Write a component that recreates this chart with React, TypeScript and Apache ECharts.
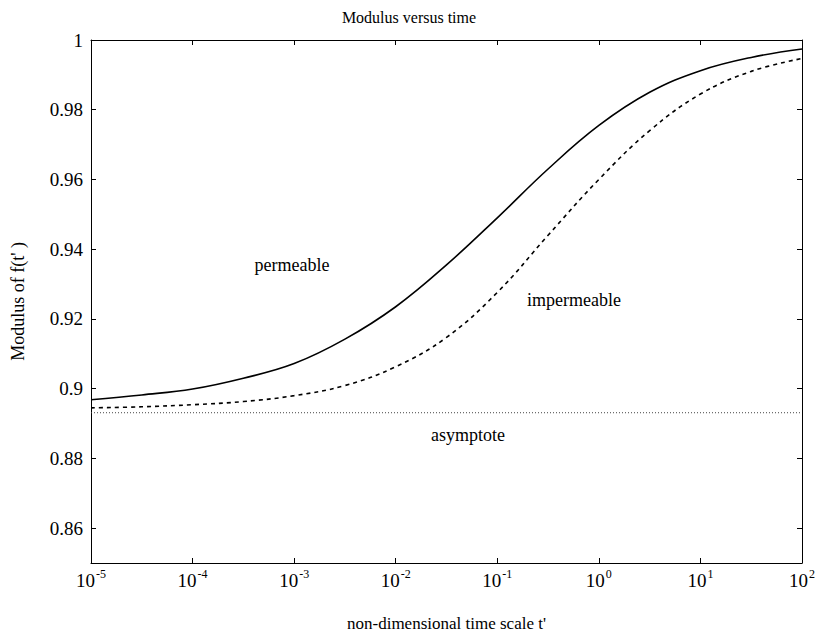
import React, { useEffect, useRef } from "react";
import * as echarts from "echarts";

const logTime = [-5, -4.5, -4, -3.5, -3, -2.5, -2, -1.5, -1, -0.5, 0, 0.5, 1, 1.5, 2];
const permeable = [0.8968, 0.8982, 0.8999, 0.903, 0.9072, 0.9142, 0.9235, 0.9355, 0.949, 0.963, 0.9755, 0.985, 0.9912, 0.995, 0.9974];
const impermeable = [0.8945, 0.8948, 0.8954, 0.8963, 0.898, 0.9009, 0.9063, 0.9147, 0.9276, 0.944, 0.96, 0.974, 0.9845, 0.991, 0.9947];
const asymptoteValue = 0.8931;
const yTicks = [0.86, 0.88, 0.9, 0.92, 0.94, 0.96, 0.98, 1];
const xTickExponents = [-5, -4, -3, -2, -1, 0, 1, 2];

const FONT = "'Liberation Serif', 'DejaVu Serif', serif";

export default function App() {
  const ref = useRef<HTMLDivElement>(null);
  useEffect(() => {
    if (!ref.current) return;
    const chart = echarts.init(ref.current, undefined, { renderer: "svg" });
    const toT = (l: number) => Math.pow(10, l);
    const solidData = logTime.map((l, i) => [toT(l), permeable[i]]);
    const dashData = logTime.map((l, i) => [toT(l), impermeable[i]]);
    const asymData = [[toT(logTime[0]), asymptoteValue], [toT(logTime[logTime.length - 1]), asymptoteValue]];
    const xTickValues = xTickExponents.map(toT);

    const logLabelFmt = (v: number) => {
      let best = xTickExponents[0];
      let bestD = Infinity;
      const lv = Math.log(v) / Math.LN10;
      for (const e of xTickExponents) {
        const d = Math.abs(e - lv);
        if (d < bestD) { bestD = d; best = e; }
      }
      const sup = best < 0 ? "-" + String(-best) : String(best);
      return "{b|10}{s|" + sup + "}";
    };
    const rich = {
      b: { fontFamily: FONT, fontSize: 19, color: "#000", lineHeight: 22, verticalAlign: "bottom" },
      s: { fontFamily: FONT, fontSize: 12, color: "#000", lineHeight: 22, verticalAlign: "top", padding: [0, 0, 0, 1] },
    };

    const baseX = {
      type: "log",
      logBase: 10,
      min: 1e-5,
      max: 100,
      splitLine: { show: false },
      minorTick: { show: false },
      axisLine: { show: true, lineStyle: { color: "#000", width: 1 } },
    };
    const baseY = {
      type: "value",
      min: 0.85,
      max: 1,
      splitLine: { show: false },
      axisLine: { show: true, lineStyle: { color: "#000", width: 1 } },
    };

    chart.setOption({
      animation: false,
      backgroundColor: "#fff",
      title: {
        text: "Modulus versus time",
        left: "center",
        top: 4,
        textStyle: { fontFamily: FONT, fontSize: 16, fontWeight: "normal", color: "#000" },
      },
      grid: { left: 91, right: 13, top: 40, bottom: 75 },
      xAxis: [
        {
          ...baseX,
          position: "bottom",
          name: "non-dimensional time scale t'",
          nameLocation: "middle",
          nameGap: 52,
          nameTextStyle: { fontFamily: FONT, fontSize: 17, color: "#000" },
          axisTick: { show: true, inside: true, length: 5, customValues: xTickValues, lineStyle: { color: "#000" } },
          axisLabel: { show: true, margin: 5, customValues: xTickValues, formatter: logLabelFmt, rich },
        },
        {
          ...baseX,
          position: "top",
          axisTick: { show: true, inside: true, length: 5, customValues: xTickValues, lineStyle: { color: "#000" } },
          axisLabel: { show: false },
        },
      ],
      yAxis: [
        {
          ...baseY,
          position: "left",
          name: "Modulus of f(t' )",
          nameLocation: "middle",
          nameGap: 64,
          nameTextStyle: { fontFamily: FONT, fontSize: 18, color: "#000" },
          axisTick: { show: true, inside: true, length: 5, customValues: yTicks, lineStyle: { color: "#000" } },
          axisLabel: { show: true, margin: 8, customValues: yTicks, fontFamily: FONT, fontSize: 19, color: "#000" },
        },
        {
          ...baseY,
          position: "right",
          axisTick: { show: true, inside: true, length: 5, customValues: yTicks, lineStyle: { color: "#000" } },
          axisLabel: { show: false },
        },
      ],
      series: [
        {
          name: "permeable",
          type: "line",
          data: solidData,
          smooth: 0.4,
          showSymbol: false,
          lineStyle: { color: "#000", width: 1.6, type: "solid" },
        },
        {
          name: "impermeable",
          type: "line",
          data: dashData,
          smooth: 0.4,
          showSymbol: false,
          lineStyle: { color: "#000", width: 1.6, type: [4, 4] },
        },
        {
          name: "asymptote",
          type: "line",
          data: asymData,
          showSymbol: false,
          lineStyle: { color: "#444", width: 1, type: [1, 2] },
        },
      ],
      graphic: [
        { type: "text", x: 292, y: 265, style: { text: "permeable", font: "18px " + FONT, fill: "#000", align: "center", verticalAlign: "middle" } },
        { type: "text", x: 574, y: 300, style: { text: "impermeable", font: "18px " + FONT, fill: "#000", align: "center", verticalAlign: "middle" } },
        { type: "text", x: 468, y: 435, style: { text: "asymptote", font: "18px " + FONT, fill: "#000", align: "center", verticalAlign: "middle" } },
      ],
    });
    return () => chart.dispose();
  }, []);
  return <div ref={ref} style={{ position: "fixed", left: 0, top: 0, width: 818, height: 638 }} />;
}
